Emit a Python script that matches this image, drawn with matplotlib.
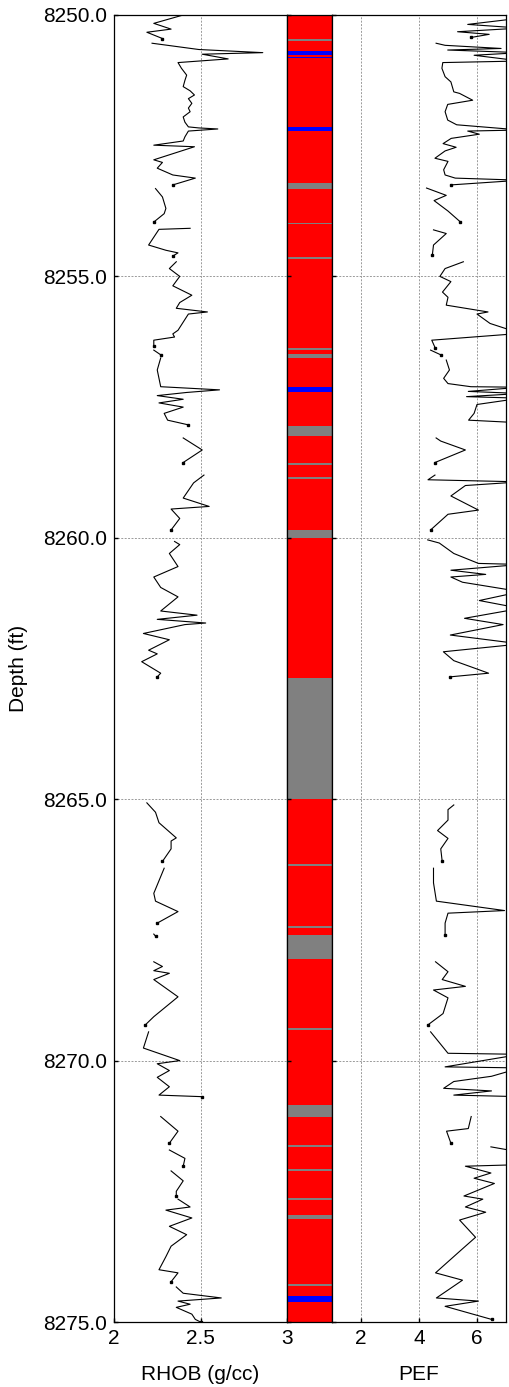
import numpy as np
import matplotlib
matplotlib.use("Agg")
import matplotlib.pyplot as plt

plt.rcParams['font.family'] = ['Liberation Sans', 'DejaVu Sans']

nan = np.nan

### donnees : profondeur (ft) et valeurs des logs, nan = trou dans le log

rhob_depth = [8250.00, 8250.16, 8250.27, 8250.33, 8250.41, 8250.45, 8250.50,
              8250.54, 8250.66, 8250.72, 8250.75, 8250.84, 8250.91, 8251.02, 8251.15, 8251.25, 8251.37,
              8251.45, 8251.53, 8251.60, 8251.69, 8251.78, 8251.85, 8251.95, 8252.05, 8252.14, 8252.16,
              8252.18, 8252.22, 8252.33, 8252.41, 8252.49, 8252.52, 8252.77, 8252.82, 8252.93, 8253.06,
              8253.12, 8253.25, 8253.28,
              8253.32, 8253.48, 8253.70, 8253.80, 8253.96, 8254.02,
              8254.08, 8254.10, 8254.40, 8254.50, 8254.55, 8254.61, 8254.66,
              8254.72, 8254.85, 8255.00, 8255.18, 8255.36, 8255.50, 8255.61, 8255.68, 8255.72, 8256.03,
              8256.10, 8256.16, 8256.22, 8256.34, 8256.38,
              8256.41, 8256.50, 8256.53,
              8256.56, 8256.79, 8257.11, 8257.17, 8257.22, 8257.28, 8257.35, 8257.42, 8257.50, 8257.62,
              8257.75, 8257.84, 8257.95,
              8258.09, 8258.32, 8258.56, 8258.70,
              8258.80, 8258.95, 8259.24, 8259.40, 8259.45, 8259.63, 8259.85, 8259.95,
              8260.07, 8260.13, 8260.30, 8260.55, 8260.75, 8260.95, 8261.13, 8261.40, 8261.48, 8261.56,
              8261.63, 8261.66, 8261.83, 8261.95, 8262.15, 8262.22, 8262.37, 8262.59, 8262.66, 8262.80,
              8265.07, 8265.25, 8265.45, 8265.74, 8265.80, 8265.95, 8266.19, 8266.25,
              8266.32, 8266.80, 8266.95, 8267.15, 8267.37, 8267.45,
              8267.58, 8267.62, 8267.80,
              8268.11, 8268.20, 8268.28, 8268.33, 8268.45, 8268.78, 8269.16, 8269.32, 8269.38,
              8269.45, 8269.76, 8270.00, 8270.06, 8270.19, 8270.32, 8270.50, 8270.66, 8270.69, 8270.80,
              8271.07, 8271.35, 8271.58, 8271.64,
              8271.71, 8271.87, 8272.02, 8272.06,
              8272.11, 8272.30, 8272.50, 8272.59, 8272.62,
              8272.65, 8272.80, 8272.86, 8273.01, 8273.17, 8273.33, 8273.55, 8273.75, 8274.00, 8274.06,
              8274.23, 8274.28,
              8274.33, 8274.45, 8274.54, 8274.60, 8274.66, 8274.72, 8274.85, 8274.95, 8275.00]
rhob = [2.40, 2.23, 2.33, 2.19, 2.25, 2.28, nan,
        2.22, 2.49, 2.86, 2.51, 2.66, 2.37, 2.39, 2.42, 2.41, 2.40,
        2.44, 2.465, 2.43, 2.45, 2.43, 2.44, 2.40, 2.41, 2.43, 2.49,
        2.60, 2.43, 2.41, 2.40, 2.23, 2.465, 2.23, 2.28, 2.25, 2.34,
        2.47, 2.34, nan,
        2.24, 2.28, 2.30, 2.29, 2.23, nan,
        2.44, 2.26, 2.20, 2.30, 2.37, 2.34, nan,
        2.36, 2.32, 2.38, 2.34, 2.45, 2.38, 2.36, 2.54, 2.43, 2.37,
        2.34, 2.35, 2.23, 2.23, nan,
        2.23, 2.27, nan,
        2.27, 2.25, 2.27, 2.61, 2.42, 2.25, 2.40, 2.26, 2.40, 2.29,
        2.31, 2.43, nan,
        2.40, 2.51, 2.40, nan,
        2.52, 2.46, 2.40, 2.55, 2.33, 2.38, 2.33, nan,
        2.35, 2.38, 2.32, 2.37, 2.23, 2.27, 2.37, 2.27, 2.48, 2.25,
        2.53, 2.41, 2.17, 2.32, 2.20, 2.25, 2.16, 2.27, 2.25, nan,
        2.19, 2.24, 2.26, 2.36, 2.33, 2.33, 2.28, nan,
        2.29, 2.23, 2.24, 2.37, 2.25, nan,
        2.23, 2.24, nan,
        2.23, 2.28, 2.23, 2.32, 2.23, 2.37, 2.23, 2.18, nan,
        2.20, 2.17, 2.38, 2.25, 2.32, 2.25, 2.32, 2.26, 2.51, nan,
        2.27, 2.37, 2.32, nan,
        2.32, 2.41, 2.40, nan,
        2.33, 2.40, 2.36, 2.36, nan,
        2.37, 2.44, 2.30, 2.45, 2.32, 2.42, 2.33, 2.30, 2.26, 2.37,
        2.33, nan,
        2.36, 2.40, 2.62, 2.37, 2.44, 2.36, 2.45, 2.47, 2.50]

pef_depth = [8250.00, 8250.06, 8250.18, 8250.25, 8250.32, 8250.37, 8250.43, 8250.48,
             8250.54, 8250.58, 8250.64, 8250.67, 8250.72, 8250.77, 8250.88, 8250.91, 8251.02, 8251.18,
             8251.28, 8251.47, 8251.50, 8251.63, 8251.71, 8251.85, 8252.01, 8252.10, 8252.20, 8252.22,
             8252.28, 8252.36, 8252.46, 8252.53, 8252.60, 8252.74, 8252.80, 8252.96, 8253.06, 8253.12,
             8253.16, 8253.25, 8253.28,
             8253.31, 8253.45, 8253.55, 8253.75, 8253.95, 8254.03,
             8254.11, 8254.18, 8254.40, 8254.59, 8254.65,
             8254.72, 8254.85, 8255.00, 8255.10, 8255.30, 8255.40, 8255.55, 8255.68, 8255.72, 8255.90,
             8256.09, 8256.22, 8256.37, 8256.39,
             8256.41, 8256.50, 8256.55,
             8256.60, 8256.79, 8256.95, 8257.05, 8257.11, 8257.12, 8257.20, 8257.24, 8257.30, 8257.33,
             8257.45, 8257.62, 8257.75, 8257.80, 8257.95,
             8258.09, 8258.15, 8258.32, 8258.56, 8258.70,
             8258.80, 8258.89, 8258.93, 8259.00, 8259.20, 8259.47, 8259.55, 8259.85, 8259.95,
             8260.04, 8260.10, 8260.30, 8260.49, 8260.51, 8260.62, 8260.70, 8260.75, 8260.85, 8261.03,
             8261.20, 8261.35, 8261.54, 8261.66, 8261.86, 8262.03, 8262.18, 8262.35, 8262.59, 8262.66, 8262.80,
             8265.11, 8265.20, 8265.40, 8265.60, 8265.75, 8265.95, 8266.19, 8266.25,
             8266.32, 8266.60, 8266.95, 8267.13, 8267.18, 8267.37, 8267.60, 8267.80,
             8268.11, 8268.30, 8268.45, 8268.58, 8268.65, 8268.80, 8269.10, 8269.32, 8269.38,
             8269.45, 8269.86, 8269.88, 8270.12, 8270.14, 8270.30, 8270.40, 8270.53, 8270.58, 8270.66,
             8270.69, 8270.80,
             8271.07, 8271.30, 8271.35, 8271.58, 8271.62,
             8271.65, 8271.75, 8271.85,
             8271.99, 8272.02, 8272.15, 8272.25, 8272.35, 8272.59, 8272.65, 8272.80, 8272.90, 8273.05,
             8273.38, 8273.60, 8274.06, 8274.20, 8274.54, 8274.60, 8274.70, 8274.95]
pef = [6.9, 7.5, 5.68, 7.5, 5.33, 6.42, 5.79, nan,
       4.59, 4.9, 6.83, 4.99, 7.5, 5.9, 7.5, 4.82, 4.79, 4.9,
       5.1, 5.2, 5.4, 5.85, 4.99, 4.9, 4.99, 5.3, 7.5, 5.68,
       6.08, 5.11, 4.83, 5.28, 4.9, 4.55, 5.0, 4.85, 4.9, 5.25,
       7.5, 5.1, nan,
       4.26, 4.94, 4.52, 5.0, 5.41, nan,
       4.5, 4.94, 4.5, 4.46, nan,
       5.53, 4.9, 4.72, 5.1, 4.81, 5.0, 4.94, 6.38, 6.0, 6.45,
       7.5, 4.44, 4.56, nan,
       4.4, 4.75, nan,
       4.94, 5.05, 4.85, 5.0, 5.79, 7.5, 5.7, 7.5, 5.64, 7.5,
       6.0, 5.9, 5.71, 7.5, nan,
       4.59, 4.75, 5.6, 4.55, nan,
       4.55, 4.31, 7.5, 5.6, 5.1, 6.05, 5.0, 4.4, nan,
       4.3, 4.7, 5.2, 6.05, 7.5, 5.1, 6.3, 5.1, 5.5, 7.5,
       6.08, 7.5, 5.57, 6.9, 5.08, 7.5, 4.84, 5.2, 6.4, 5.07, nan,
       5.2, 5.0, 5.0, 4.64, 5.0, 4.75, 4.8, nan,
       4.5, 4.5, 4.6, 6.95, 5.0, 4.9, 4.9, nan,
       4.57, 5.0, 4.8, 5.6, 4.5, 5.0, 4.83, 4.3, nan,
       4.4, 5.0, 7.5, 4.9, 7.5, 6.5, 5.2, 4.85, 6.5, 5.2,
       7.5, nan,
       5.8, 5.7, 4.95, 5.1, nan,
       6.48, 7.5, nan,
       7.5, 5.6, 6.48, 5.9, 6.6, 5.55, 6.2, 5.6, 6.3, 5.4,
       5.95, 5.5, 4.57, 5.5, 4.6, 6.05, 4.9, 6.5]

# facies : intervalles non rouges (le fond de la colonne est rouge)
facies_top = [8250.46, 8250.69, 8250.80, 8252.14, 8253.22, 8253.97, 8254.63, 8256.37, 8256.48,
              8257.12, 8257.86, 8258.56, 8258.83, 8259.85, 8262.68, 8266.23, 8267.42, 8267.60,
              8269.37, 8270.85, 8271.62, 8272.08, 8272.63, 8272.95, 8274.27, 8274.50]
facies_base = [8250.50, 8250.77, 8250.83, 8252.21, 8253.33, 8254.00, 8254.67, 8256.41, 8256.56,
               8257.21, 8258.05, 8258.60, 8258.87, 8260.00, 8265.00, 8266.27, 8267.46, 8268.05,
               8269.41, 8271.07, 8271.66, 8272.12, 8272.67, 8273.03, 8274.31, 8274.61]
facies_class = ['gray', 'blue', 'blue', 'blue', 'gray', 'gray', 'gray', 'gray', 'gray',
                'blue', 'gray', 'gray', 'gray', 'gray', 'gray', 'gray', 'gray', 'gray',
                'gray', 'gray', 'gray', 'gray', 'gray', 'gray', 'gray', 'blue']
facies_colors = {'red': '#ff0000', 'gray': '#808080', 'blue': '#0000ff'}

depth_min, depth_max = 8250.0, 8275.0
depth_ticks = [8250, 8255, 8260, 8265, 8270, 8275]

### creation de la figure et des trois pistes

W, H = 509, 1387
fig = plt.figure(figsize=(W / 100, H / 100), dpi=100)
bot = 65 / H
hgt = 1307 / H
ax1 = fig.add_axes([114 / W, bot, 173 / W, hgt])
ax2 = fig.add_axes([287 / W, bot, 45 / W, hgt])
ax3 = fig.add_axes([332 / W, bot, 174 / W, hgt])

grid_style = dict(color='#9a9a9a', linestyle=(0, (2, 1.5)), linewidth=0.7)


def log_track(ax, depth, values):
    depth = np.array(depth)
    values = np.array(values)
    ax.plot(values, depth, color='black', linewidth=0.8)
    # petits points en fin de segment
    ends = np.where(np.isnan(np.append(values[1:], nan)) & ~np.isnan(values))[0]
    ax.plot(values[ends], depth[ends], 's', color='black', markersize=1.6, linestyle='none')


# piste RHOB
log_track(ax1, rhob_depth, rhob)
ax1.set_xlim(2, 3)
ax1.set_xticks([2, 2.5, 3])
ax1.set_xticklabels(['2', '2.5', '3'])
ax1.set_xlabel('RHOB (g/cc)', fontsize=15, labelpad=12)
ax1.set_ylabel('Depth (ft)', fontsize=15, labelpad=11)
ax1.set_yticks(depth_ticks)
ax1.set_yticklabels(['%.1f' % d for d in depth_ticks])

# colonne des facies
ax2.axvspan(0, 1, color=facies_colors['red'], linewidth=0)
for top, base, fc in zip(facies_top, facies_base, facies_class):
    ax2.axhspan(top, base, color=facies_colors[fc], linewidth=0)
ax2.set_xlim(0, 1)
ax2.set_xticks([])
ax2.set_yticks(depth_ticks)
ax2.set_yticklabels([])

# piste PEF
log_track(ax3, pef_depth, pef)
ax3.set_xlim(1, 7)
ax3.set_xticks([2, 4, 6])
ax3.set_xlabel('PEF', fontsize=15, labelpad=12)
ax3.set_yticks(depth_ticks)
ax3.set_yticklabels([])

for ax in (ax1, ax2, ax3):
    ax.set_ylim(depth_max, depth_min)
    ax.tick_params(direction='in', length=3, width=1, labelsize=15, pad=5)
    for sp in ax.spines.values():
        sp.set_linewidth(0.9)
for ax in (ax1, ax3):
    ax.grid(True, **grid_style)

fig.savefig('out.png', dpi=100)
